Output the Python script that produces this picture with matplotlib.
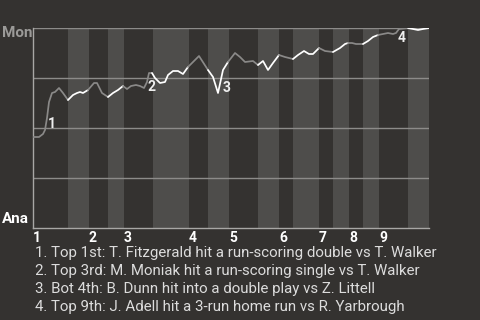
import numpy as np
import matplotlib
matplotlib.use("Agg")
import matplotlib.pyplot as plt

# half-inning boundaries (in plays)
half_bounds = [0, 7, 11.2, 15, 18.2, 24, 31.2, 35, 39.2, 45, 49.2, 52, 57.2, 60, 63.2, 66, 69.2, 75, 79.2]
innings = ["1", "2", "3", "4", "5", "6", "7", "8", "9"]

# win probability for Mon (%), by play
plays = [0, 1.2, 2, 2.4, 2.8, 3.2, 3.8, 4.4, 5.2, 6, 7, 8, 8.8, 9.4, 10, 11, 12.2, 12.8,
         13.8, 15, 16, 17, 18, 18.8, 19.6, 20.6, 21.4, 22.2, 22.8, 23.2, 23.8, 24.4,
         25.4, 26.4, 27, 28, 29, 30, 31, 33.2, 35, 36, 37, 38, 39, 40.4, 41.4, 42.4,
         44, 45, 46, 47, 48, 49.2, 50.4, 52, 53, 54.2, 55.2, 56, 57.2, 58.4, 60, 61.4,
         62.4, 63, 63.8, 64.6, 66, 67, 68, 69, 70, 71, 72, 72.6, 73.2, 75, 76, 77, 78, 79.2]
win_prob = [45.5, 45.5, 47, 49, 55, 63, 67.5, 68, 70, 67.5, 64, 66.5, 67.5, 68, 67.5, 69,
            72.5, 72.5, 67.5, 65.5, 67.5, 69, 71, 69.5, 71, 71.5, 71, 70, 73, 77.5, 77.5,
            75, 72.5, 73, 76.5, 78.5, 78.5, 77, 80.5, 86, 79, 75.5, 67.5, 79, 83, 87.5,
            85.5, 83, 83.5, 81.5, 83.5, 79, 82.5, 86.5, 85.5, 84.5, 86.5, 88.5, 87, 87,
            90, 88.5, 88, 90, 92, 92.5, 92.5, 92, 92, 93.5, 95.5, 96.5, 97, 97.5, 97,
            97.5, 99.5, 100, 99.5, 99, 99.5, 100]

# key plays
event_x = [3.8, 23.8, 38.8, 73.8]
event_y = [52, 70.5, 70, 95]
event_num = ["1", "2", "3", "4"]
event_text = [
    "1. Top 1st: T. Fitzgerald hit a run-scoring double vs T. Walker",
    "2. Top 3rd: M. Moniak hit a run-scoring single vs T. Walker",
    "3. Bot 4th: B. Dunn hit into a double play vs Z. Littell",
    "4. Top 9th: J. Adell hit a 3-run home run vs R. Yarbrough",
]

bg = "#343230"
band = "#4e4d4b"
grid = "#8c8b89"

plt.rcParams['font.family'] = ['Roboto', 'DejaVu Sans']

fig = plt.figure(figsize=(4.8, 3.2), dpi=100, facecolor=bg)
ax = fig.add_axes([33 / 480, 1 - 228 / 320, 396 / 480, 200 / 320])
ax.set_facecolor(bg)

for i in range(len(half_bounds) - 1):
    if i % 2 == 1:
        ax.axvspan(half_bounds[i], half_bounds[i + 1], color=band, lw=0, zorder=0)

for yv in [25, 50, 75, 100]:
    ax.axhline(yv, color=grid, lw=1, zorder=1)

# line: white during bottom halves, gray during top halves
x = np.array(plays)
y = np.array(win_prob)
mid = (x[:-1] + x[1:]) / 2
half_idx = np.searchsorted(half_bounds, mid) - 1
colors = np.where(half_idx % 2 == 1, "white", "#8a8988")
start = 0
for j in range(1, len(mid) + 1):
    if j == len(mid) or colors[j] != colors[start]:
        ax.plot(x[start:j + 1], y[start:j + 1], color=colors[start], lw=1.25,
                solid_joinstyle="round", solid_capstyle="round", zorder=3)
        start = j

for ex, ey, n in zip(event_x, event_y, event_num):
    ax.text(ex, ey, n, color="#eeeeee", fontsize=10, fontweight="bold",
            ha="center", va="center", zorder=4)

ax.set_xlim(half_bounds[0], half_bounds[-1])
ax.set_ylim(0, 100)
for s in ["top", "right"]:
    ax.spines[s].set_visible(False)
for s in ["left", "bottom"]:
    ax.spines[s].set_color("#a8a7a5")
    ax.spines[s].set_linewidth(1)
ax.set_yticks([])
ax.set_xticks(half_bounds[0:-1:2], innings, ha="left")
ax.tick_params(axis="x", length=0, pad=2, colors="white", labelsize=10)
for lbl in ax.get_xticklabels():
    lbl.set_fontweight("bold")

fig.text(2 / 480, 1 - 33 / 320, "Mon", color="#9b9a98", fontsize=11,
         fontweight="bold", ha="left", va="center")
fig.text(2 / 480, 1 - 219 / 320, "Ana", color="white", fontsize=11,
         fontweight="bold", ha="left", va="center")

for k, t in enumerate(event_text):
    fig.text(35 / 480, 1 - (253 + 18 * k) / 320, t, color="#dcdcdc",
             fontsize=10.8, ha="left", va="center")

fig.savefig("out.png", dpi=100, facecolor=bg)
